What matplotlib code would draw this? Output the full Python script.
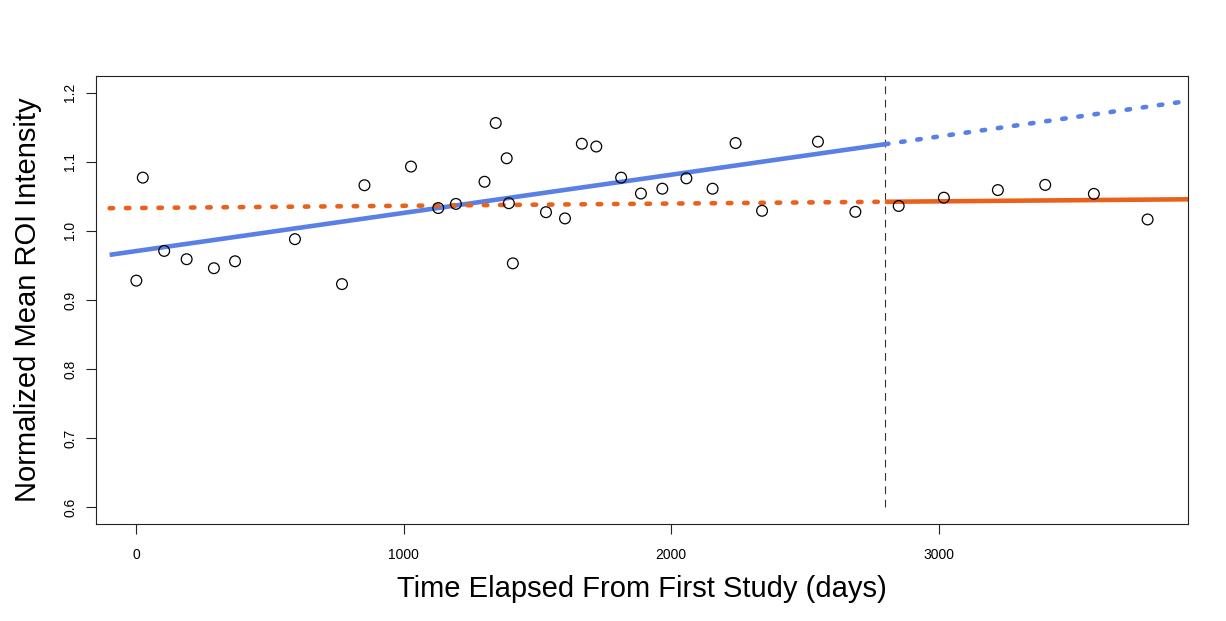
import matplotlib
matplotlib.use("Agg")
import matplotlib.pyplot as plt
import numpy as np

plt.rcParams['font.family'] = ['Liberation Sans', 'DejaVu Sans']

# Data
days = [0, 24, 104, 188, 290, 369, 593, 769, 853, 1027, 1129, 1195, 1302, 1344,
        1385, 1393, 1408, 1532, 1603, 1666, 1720, 1813, 1887, 1967, 2057, 2155,
        2241, 2340, 2549, 2689, 2851, 3020, 3222, 3399, 3581, 3782]
intensity = [0.928, 1.077, 0.971, 0.959, 0.946, 0.956, 0.988, 0.923, 1.066, 1.093,
             1.033, 1.039, 1.071, 1.156, 1.105, 1.040, 0.953, 1.027, 1.018, 1.126,
             1.122, 1.077, 1.054, 1.061, 1.076, 1.061, 1.127, 1.029, 1.129, 1.0275,
             1.036, 1.048, 1.059, 1.0665, 1.0535, 1.0165]

cutoff_day = 2800
blue_fit = (0.9708, 5.52e-5)     # intercept, slope
orange_fit = (1.0331, 3.2e-6)
blue_range = [-100, cutoff_day, 3900]
orange_range = [-100, cutoff_day, 3940]

x_ticks = [0, 1000, 2000, 3000]
y_ticks = [0.6, 0.7, 0.8, 0.9, 1.0, 1.1, 1.2]

blue = '#5A80E6'
orange = '#E8621C'

fig = plt.figure(figsize=(12.26, 6.21), dpi=100)
ax = fig.add_axes([96/1226, 1-524/621, (1188-96)/1226, (524-76)/621])

lw = 3.3
dash = (0.75, 2.8)

def seg(fit, x0, x1):
    xs = np.array([x0, x1], dtype=float)
    return xs, fit[0] + fit[1]*xs

# blue: solid before cutoff, dotted after
xs, ys = seg(blue_fit, blue_range[0], blue_range[1])
ax.plot(xs, ys, color=blue, lw=lw, solid_capstyle='butt', zorder=2)
xs, ys = seg(blue_fit, blue_range[1], blue_range[2])
ax.plot(xs, ys, color=blue, lw=lw, dashes=dash, dash_capstyle='round', zorder=2)

# orange: dashed before cutoff, solid after
xs, ys = seg(orange_fit, orange_range[0], orange_range[1])
ax.plot(xs, ys, color=orange, lw=lw, dashes=dash, dash_capstyle='round', zorder=2)
xs, ys = seg(orange_fit, orange_range[1], orange_range[2])
ax.plot(xs, ys, color=orange, lw=lw, solid_capstyle='butt', zorder=2)

# vertical dashed line
ax.plot([cutoff_day, cutoff_day], [0.6, 1.3], color='#333333', lw=0.8,
        dashes=(7, 5), zorder=1)

ax.scatter(days, intensity, s=60, facecolors='none', edgecolors='black',
           linewidths=0.9, zorder=3)

ax.set_xlim(-151, 3933)
ax.set_ylim(0.576, 1.224)

for s in ax.spines.values():
    s.set_linewidth(0.8)
    s.set_color('#222222')

ax.set_xticks(x_ticks)
ax.set_xticklabels([str(v) for v in x_ticks])
ax.set_yticks(y_ticks)
ax.set_yticklabels([f'{v:.1f}' for v in y_ticks], rotation=90, va='center')
ax.tick_params(axis='both', direction='out', length=7.5, width=0.8,
               labelsize=10, color='#222222')
ax.tick_params(axis='x', pad=10)
ax.tick_params(axis='y', pad=6)

ax.set_xlabel('Time Elapsed From First Study (days)', fontsize=21, labelpad=9)
ax.set_ylabel('Normalized Mean ROI Intensity', fontsize=21, labelpad=15)

fig.savefig('out.png', dpi=100)
